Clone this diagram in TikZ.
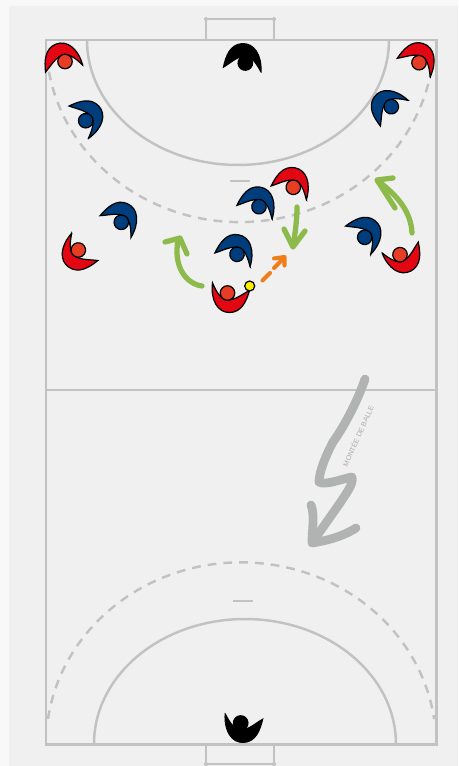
\documentclass[tikz,border=0pt]{standalone}
\usepackage{fontspec}
\setmainfont{Liberation Sans}
\definecolor{pagebg}{HTML}{F8F8F8}
\definecolor{courtbg}{HTML}{F0F0F0}
\definecolor{courtline}{HTML}{C2C2C2}
\definecolor{redbody}{HTML}{E30613}
\definecolor{redhead}{HTML}{E83D25}
\definecolor{bluebody}{HTML}{003D7C}
\definecolor{ballcol}{HTML}{FFED00}
\definecolor{movegreen}{HTML}{8CBB4B}
\definecolor{passorange}{HTML}{EF7D1A}
\definecolor{bigarrow}{HTML}{B0B3B1}
\definecolor{labelgrey}{HTML}{ABABAB}
\tikzset{
  x=0.02cm,y=-0.02cm,
  court/.style={draw=courtline,line width=1.7pt},
  courtthin/.style={draw=courtline,line width=1.4pt},
  zone/.style={draw=courtline,line width=1.4pt,dash pattern=on 5pt off 4pt},
  greenmove/.style={draw=movegreen,line width=3pt,line cap=round,line join=round},
  orangepass/.style={draw=passorange,line width=2.3pt,line cap=round,line join=round},
  bigpath/.style={draw=bigarrow,line width=5pt,line cap=round,line join=round},
  pics/plr/.style n args={2}{code={
    \path[fill=#1,draw=black,line width=0.7pt,line join=miter]
      (-15,-10) .. controls (-17,7) and (-10,19.5) .. (2,19.5)
      .. controls (14,19.5) and (19,8) .. (22,-2.5)
      .. controls (15,1) and (8,7) .. (0,7)
      .. controls (-7,7) and (-12,-3) .. cycle;
    \path[fill=#2,draw=black,line width=0.7pt] (0,0) circle[radius=0.145cm];
  }}
}
\begin{document}
\begin{tikzpicture}
\useasboundingbox (0,0) rectangle (458,766);
\fill[pagebg] (0,0) rectangle (458,766);
\fill[courtbg] (9,6) rectangle (458,766);
% goals
\draw[courtthin] (206,40) -- (206,19) -- (274,19) -- (274,40);
\draw[courtthin] (206,744) -- (206,764) -- (274,764) -- (274,744);
\fill[courtline] (206,19) circle[radius=0.04cm] (274,19) circle[radius=0.04cm] (206,764) circle[radius=0.04cm] (274,764) circle[radius=0.04cm];
% court
\draw[court] (46,40) rectangle (436,744);
\draw[courtthin] (46,390) -- (436,390);
\draw[courtthin] (87,40) arc[start angle=180,end angle=360,x radius=3.02cm,y radius=2.5cm];
\draw[courtthin] (94,744) arc[start angle=180,end angle=0,x radius=3.02cm,y radius=2.5cm];
\draw[zone] (46.7,56) arc[start angle=185,end angle=355,x radius=3.88cm,y radius=3.64cm];
\draw[zone] (48,719) arc[start angle=172,end angle=8,x radius=3.9cm,y radius=3.64cm];
\draw[courtthin] (230,181) -- (250,181);
\draw[courtthin] (233,601) -- (253,601);
% big arrow
\draw[bigpath] (365,379) .. controls (358,400) and (345,425) .. (333,442)
  .. controls (326,455) and (319,472) .. (319,482)
  .. controls (325,486) and (345,478) .. (352,477)
  .. controls (354,484) and (345,495) .. (340,503)
  -- (314,540);
\draw[bigpath] (311,505) .. controls (315,515) and (312,530) .. (312,543) .. controls (325,541) and (342,537) .. (356,528);
\node (lbl) [text=labelgrey,font=\fontsize{4pt}{4.4pt}\selectfont,rotate=66,inner sep=0pt] at (358,436) {MONTÉE DE BALLE};
% movement arrows
\draw[greenmove] (202,286) .. controls (187,284) and (173,268) .. (178,240);
\draw[greenmove] (165,242) -- (180,238) -- (187,254);
\draw[greenmove] (297,207) .. controls (297,220) and (295,235) .. (293,246);
\draw[greenmove] (284,229) -- (293,247) -- (305,231);
\draw[greenmove] (412,233) .. controls (411,212) and (398,196) .. (378,181);
\draw[greenmove] (393,178) -- (377,180) -- (395,208);
\draw[orangepass] (262.5,280.5) -- (270,273);
\draw[orangepass] (274,268) -- (284,258);
\draw[orangepass] (274,258.5) -- (284.5,257) -- (284.5,265.5);
% players
\pic[rotate=0] (p1) at (227.5,293) {plr={redbody}{redhead}};
\pic[rotate=-158] (p2) at (65,61.5) {plr={redbody}{redhead}};
\pic[rotate=-198] (p3) at (419,62.7) {plr={redbody}{redhead}};
\pic[rotate=-228] (p4) at (85.7,120.7) {plr={bluebody}{bluebody}};
\pic[rotate=-126] (p5) at (391.3,106.7) {plr={bluebody}{bluebody}};
\pic[rotate=-176] (p6) at (245.3,63) {plr={black}{black}};
\pic[rotate=3] (p7) at (240.7,723) {plr={black}{black}};
\pic[rotate=-35] (p8) at (78.3,250) {plr={redbody}{redhead}};
\pic[rotate=-204] (p9) at (121.3,222.3) {plr={bluebody}{bluebody}};
\pic[rotate=-190] (p10) at (237,254.3) {plr={bluebody}{bluebody}};
\pic[rotate=-190] (p11) at (259,206.7) {plr={bluebody}{bluebody}};
\pic[rotate=-190] (p12) at (293.3,187.3) {plr={redbody}{redhead}};
\pic[rotate=-217] (p13) at (364.7,237.3) {plr={bluebody}{bluebody}};
\pic[rotate=28] (p14) at (400,254.7) {plr={redbody}{redhead}};
% ball
\node (ball) [circle,fill=ballcol,draw=black,line width=0.7pt,minimum size=0.2cm,inner sep=0pt] at (249.7,286) {};
\end{tikzpicture}
\end{document}
